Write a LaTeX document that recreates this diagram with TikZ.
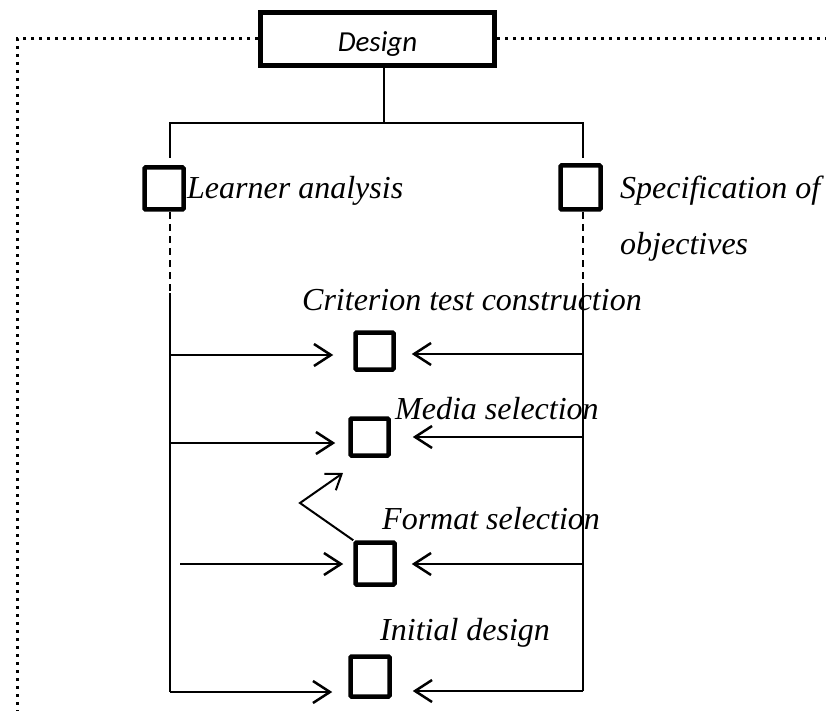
\documentclass[tikz,border=0pt]{standalone}
\usepackage{fontspec}
\setmainfont{Liberation Serif}
\newfontfamily\dsans{Carlito}
\usetikzlibrary{arrows.meta}
\begin{document}
\begin{tikzpicture}[x=1pt,y=-1pt,
  bigbox/.style={draw,line width=5pt,minimum width=234pt,minimum height=53pt,inner sep=0pt,
    text height=26pt,text depth=0pt,font=\dsans\itshape\fontsize{29}{34}\selectfont},
  sq/.style={draw,line width=4.5pt,inner sep=0pt,rounded corners=1pt},
  lbl/.style={anchor=base west,inner sep=0pt,font=\itshape\fontsize{32}{38}\selectfont},
  tree/.style={line width=1.8pt},
  dashline/.style={line width=1.8pt,dash pattern=on 7pt off 5pt},
  frame/.style={line width=3pt,dash pattern=on 3pt off 5pt},
  arr/.style={line width=2.5pt,-{Straight Barb[length=17pt,width=22pt]}},
  sarr/.style={line width=2pt,-{Straight Barb[length=14pt,width=20pt]}}
]
\useasboundingbox (0,0) rectangle (826,711);

% boxes
\node[bigbox] (design) at (377.5,39) {Design};
\node[sq,minimum width=39pt,minimum height=42pt] (learn) at (164,188.5) {};
\node[sq,minimum width=40pt,minimum height=44pt] (spec) at (580.5,187.5) {};
\node[sq,minimum width=38pt,minimum height=37pt] (crit) at (374.5,351) {};
\node[sq,minimum width=38pt,minimum height=37pt] (media) at (369.5,437) {};
\node[sq,minimum width=39pt,minimum height=42pt] (fmt) at (375,563.5) {};
\node[sq,minimum width=39pt,minimum height=40pt] (init) at (370,676.5) {};

% labels
\node[lbl] (tlearn) at (187,199) {Learner analysis};
\node[lbl] (tspec) at (620,199) {Specification of};
\node[lbl] (tspec2) at (620,254) {objectives};
\node[lbl] (tcrit) at (302,310) {Criterion test construction};
\node[lbl] (tmedia) at (395,419) {Media selection};
\node[lbl] (tfmt) at (382,529) {Format selection};
\node[lbl] (tinit) at (380,640) {Initial design};

% dotted frame
\draw[frame] (design.west) -- (17,39) -- (17,711);
\draw[frame] (design.east) -- (826,39);

% tree
\coordinate (j0) at (384,123);
\coordinate (jl) at (170,123);
\coordinate (jr) at (583,123);
\coordinate (jl2) at (170,158);
\coordinate (jr2) at (583,158);
\draw[tree] (design.south -| j0) -- (j0);
\draw[tree] (jl2) -- (jl) -- (jr) -- (jr2);

% left spine
\coordinate (ld0) at (170,212);
\coordinate (ld1) at (170,293);
\coordinate (lb) at (170,692);
\draw[dashline] (ld0) -- (ld1);
\draw[tree] (ld1) -- (lb);

% right spine
\coordinate (rd0) at (583,212);
\coordinate (rd1) at (583,283);
\coordinate (rb) at (583,691);
\draw[dashline] (rd0) -- (rd1);
\draw[tree] (rd1) -- (rb);

% left arrows
\coordinate (la1) at (170,355);
\coordinate (la2) at (170,443);
\coordinate (la3) at (180,564);
\draw[arr,shorten >=20pt] (la1) -- (crit.west |- la1);
\draw[arr,shorten >=13pt] (la2) -- (media.west |- la2);
\draw[arr,shorten >=10pt] (la3) -- (fmt.west |- la3);
\draw[arr,shorten >=16pt] (lb) -- (init.west |- lb);

% right arrows
\coordinate (ra1) at (583,354);
\coordinate (ra2) at (583,437);
\coordinate (ra3) at (583,564);
\draw[arr,shorten >=16pt] (ra1) -- (crit.east |- ra1);
\draw[arr,shorten >=22pt] (ra2) -- (media.east |- ra2);
\draw[arr,shorten >=15pt] (ra3) -- (fmt.east |- ra3);
\draw[arr,shorten >=21pt] (rb) -- (init.east |- rb);

% format -> media bent arrow
\coordinate (bend) at (300,503);
\coordinate (btip) at (343,473);
\draw[sarr] (fmt.north west) -- (bend) -- (btip);
\end{tikzpicture}
\end{document}
